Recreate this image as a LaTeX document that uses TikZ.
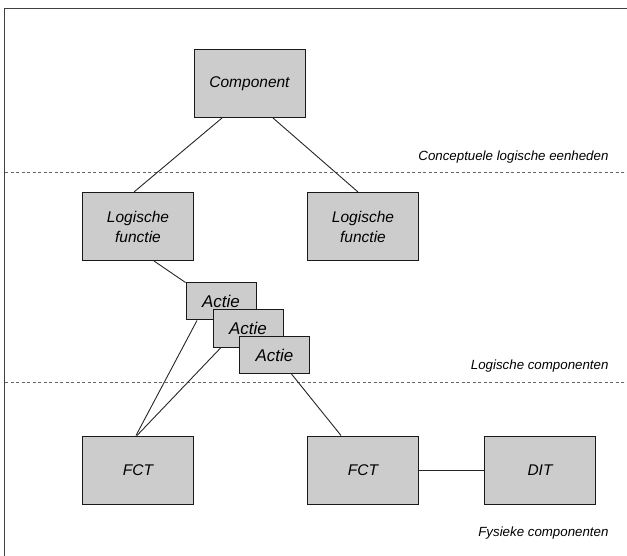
\documentclass[tikz,border=0pt]{standalone}
\usepackage{fontspec}
\setmainfont{Liberation Sans}
\usetikzlibrary{positioning}

\definecolor{boxgray}{RGB}{204,204,204}

\tikzset{
  box/.style={draw=black!90, line width=1pt, fill=boxgray, minimum width=111pt, minimum height=68pt,
    inner sep=0pt, align=center, font=\itshape\fontsize{15.5}{20}\selectfont},
  actbox/.style={box, minimum width=70pt, minimum height=37pt, font=\itshape\fontsize{17}{20}\selectfont},
  link/.style={line width=0.9pt, draw=black!85},
  layer/.style={line width=1pt, dash pattern=on 3pt off 2.5pt, draw=black!60},
  layertext/.style={anchor=east, font=\itshape\fontsize{13.3}{16}\selectfont},
}

\begin{document}
\begin{tikzpicture}[x=1pt, y=-1pt]
    \useasboundingbox (0,0) rectangle (627,556);
    % frame and layer borders
    \draw [line width=1.5pt, black!75] (4.5,556) -- (4.5,8.5) -- (627,8.5);
    \draw [layer] (5,172.5) -- (627,172.5);
    \draw [layer] (5,382.5) -- (627,382.5);
    \node (lblconc) [layertext] at (612,157) {Conceptuele logische eenheden};
    \node (lbllog) [layertext] at (612,366.5) {Logische componenten};
    \node (lblfys) [layertext] at (612,533) {Fysieke componenten};

    % boxes
    \node (comp) [box] at (249.5,83.5) {Component};
    \node (lf1) [box] at (138,226.5) {Logische\\functie};
    \node (lf2) [box, right=113pt of lf1] {Logische\\functie};
    \node (act1) [actbox] at (221,301.5) {Actie};
    \node (act2) [actbox] at (248,328.5) {Actie};
    \node (act3) [actbox] at (274.5,355) {Actie};
    \node (fct1) [box] at (138,470) {FCT};
    \node (fct2) [box] at (363,470) {FCT};
    \node (dit) [box, right=65pt of fct2] {DIT};

    % connections
    \draw [link] ([xshift=-27.5pt]comp.south) -- ([xshift=-4pt]lf1.north);
    \draw [link] ([xshift=23.5pt]comp.south) -- ([xshift=-5pt]lf2.north);
    \draw [link] ([xshift=16pt]lf1.south) -- (act1.north west);
    \draw [link] ([xshift=-24pt]act1.south) -- ([xshift=-2pt]fct1.north);
    \draw [link] ([xshift=-27pt]act2.south) -- ([xshift=-1pt]fct1.north);
    \draw [link] ([xshift=17pt]act3.south) -- ([xshift=-22pt]fct2.north);
    \draw [link] (fct2.east) -- (dit.west);
\end{tikzpicture}
\end{document}
